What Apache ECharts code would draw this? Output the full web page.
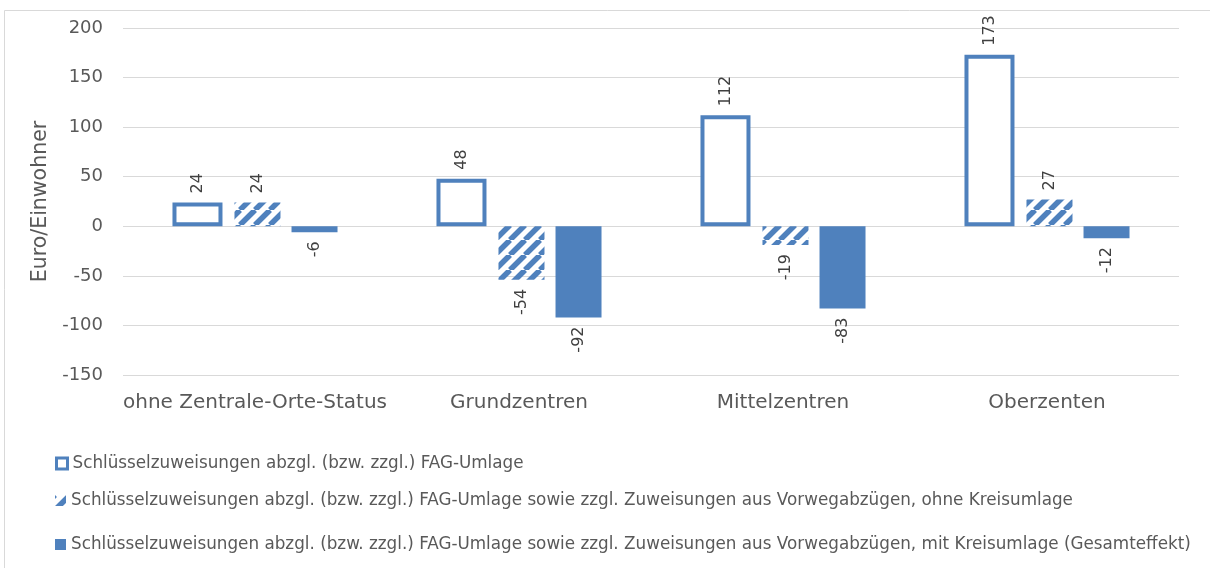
<!DOCTYPE html>
<html>
<head>
<meta charset="utf-8">
<script src="https://cdn.jsdelivr.net/npm/echarts/dist/echarts.min.js"></script>
<style>
  html, body { margin: 0; padding: 0; background: #fff; }
  #chart { width: 1210px; height: 568px; }
</style>
</head>
<body>
<div id="chart"></div>
<script>
// Zentralörtliche Einstufung der Gemeinden
const categories = ['ohne Zentrale-Orte-Status', 'Grundzentren', 'Mittelzentren', 'Oberzenten'];

const seriesNames = [
  'Schlüsselzuweisungen abzgl. (bzw. zzgl.) FAG-Umlage',
  'Schlüsselzuweisungen abzgl. (bzw. zzgl.) FAG-Umlage sowie zzgl. Zuweisungen aus Vorwegabzügen, ohne Kreisumlage',
  'Schlüsselzuweisungen abzgl. (bzw. zzgl.) FAG-Umlage sowie zzgl. Zuweisungen aus Vorwegabzügen, mit Kreisumlage (Gesamteffekt)'
];

// Euro je Einwohner
const fagUmlage = [24, 48, 112, 173];
const ohneKreisumlage = [24, -54, -19, 27];
const gesamteffekt = [-6, -92, -83, -12];

// Werteachse
const yMin = -150;
const yMax = 200;
const yStep = 50;

const BLUE = '#4F81BD';
const TEXT = '#595959';
const FONT = 'DejaVu Sans';

// diagonal stripe fill ("/") for the middle series
function stripes(color) {
  const P = 15;
  const c = document.createElement('canvas');
  c.width = P; c.height = P;
  const g = c.getContext('2d');
  g.strokeStyle = color;
  g.lineWidth = 5.5;
  g.beginPath();
  for (let k = -1; k <= 1; k++) {
    g.moveTo(k * P, P);
    g.lineTo(k * P + P, 0);
  }
  g.stroke();
  return c;
}

// rotated value labels: above positive bars, below negative ones
function withLabels(values) {
  return values.map(v => ({
    value: v,
    label: v >= 0
      ? { position: 'top', align: 'left', verticalAlign: 'middle' }
      : { position: 'bottom', align: 'right', verticalAlign: 'middle' }
  }));
}

const labelBase = {
  show: true,
  rotate: 90,
  distance: 9,
  fontFamily: FONT,
  fontSize: 16,
  color: '#404040'
};

const hatch = { image: stripes(BLUE), repeat: 'repeat' };

const chart = echarts.init(document.getElementById('chart'), null, { renderer: 'canvas' });

function legendRow(name, top, iconStyle) {
  return {
    data: [{ name: name, itemStyle: iconStyle }],
    left: 55,
    top: top,
    orient: 'horizontal',
    padding: 0,
    itemWidth: 11,
    itemHeight: 11,
    selectedMode: false,
    icon: 'rect',
    textStyle: { fontFamily: FONT, fontSize: 16.8, color: TEXT }
  };
}

chart.setOption({
  animation: false,
  backgroundColor: '#fff',
  textStyle: { fontFamily: FONT },
  graphic: [{
    type: 'rect',
    silent: true,
    z: -10,
    shape: { x: 4.5, y: 10.5, width: 1300, height: 700 },
    style: { fill: 'none', stroke: '#d9d9d9', lineWidth: 1 }
  }],
  grid: { left: 123, right: 31, top: 28, bottom: 193, containLabel: false },
  legend: [
    legendRow(seriesNames[0], 455, { color: '#fff', borderColor: BLUE, borderWidth: 3 }),
    legendRow(seriesNames[1], 492, { color: hatch, borderWidth: 0 }),
    legendRow(seriesNames[2], 536, { color: BLUE, borderWidth: 0 })
  ],
  xAxis: {
    type: 'category',
    data: categories,
    axisLine: { show: false },
    axisTick: { show: false },
    axisLabel: { interval: 0, fontFamily: FONT, fontSize: 20, color: TEXT, margin: 18 }
  },
  yAxis: {
    type: 'value',
    min: yMin,
    max: yMax,
    interval: yStep,
    name: 'Euro/Einwohner',
    nameLocation: 'middle',
    nameGap: 69,
    nameTextStyle: { fontFamily: FONT, fontSize: 20.5, color: TEXT },
    axisLine: { show: false },
    axisTick: { show: false },
    axisLabel: { fontFamily: FONT, fontSize: 18, color: TEXT, margin: 20 },
    splitLine: { lineStyle: { color: '#d9d9d9', width: 1 } }
  },
  series: [
    {
      name: seriesNames[0],
      type: 'bar',
      barWidth: 50,
      barGap: '24%',
      data: withLabels(fagUmlage),
      itemStyle: { color: '#fff', borderColor: BLUE, borderWidth: 4 },
      label: labelBase
    },
    {
      name: seriesNames[1],
      type: 'bar',
      barWidth: 46,
      barGap: '24%',
      data: withLabels(ohneKreisumlage),
      itemStyle: { color: hatch },
      label: labelBase
    },
    {
      name: seriesNames[2],
      type: 'bar',
      barWidth: 46,
      barGap: '24%',
      data: withLabels(gesamteffekt),
      itemStyle: { color: BLUE },
      label: labelBase
    }
  ]
});
</script>
</body>
</html>
